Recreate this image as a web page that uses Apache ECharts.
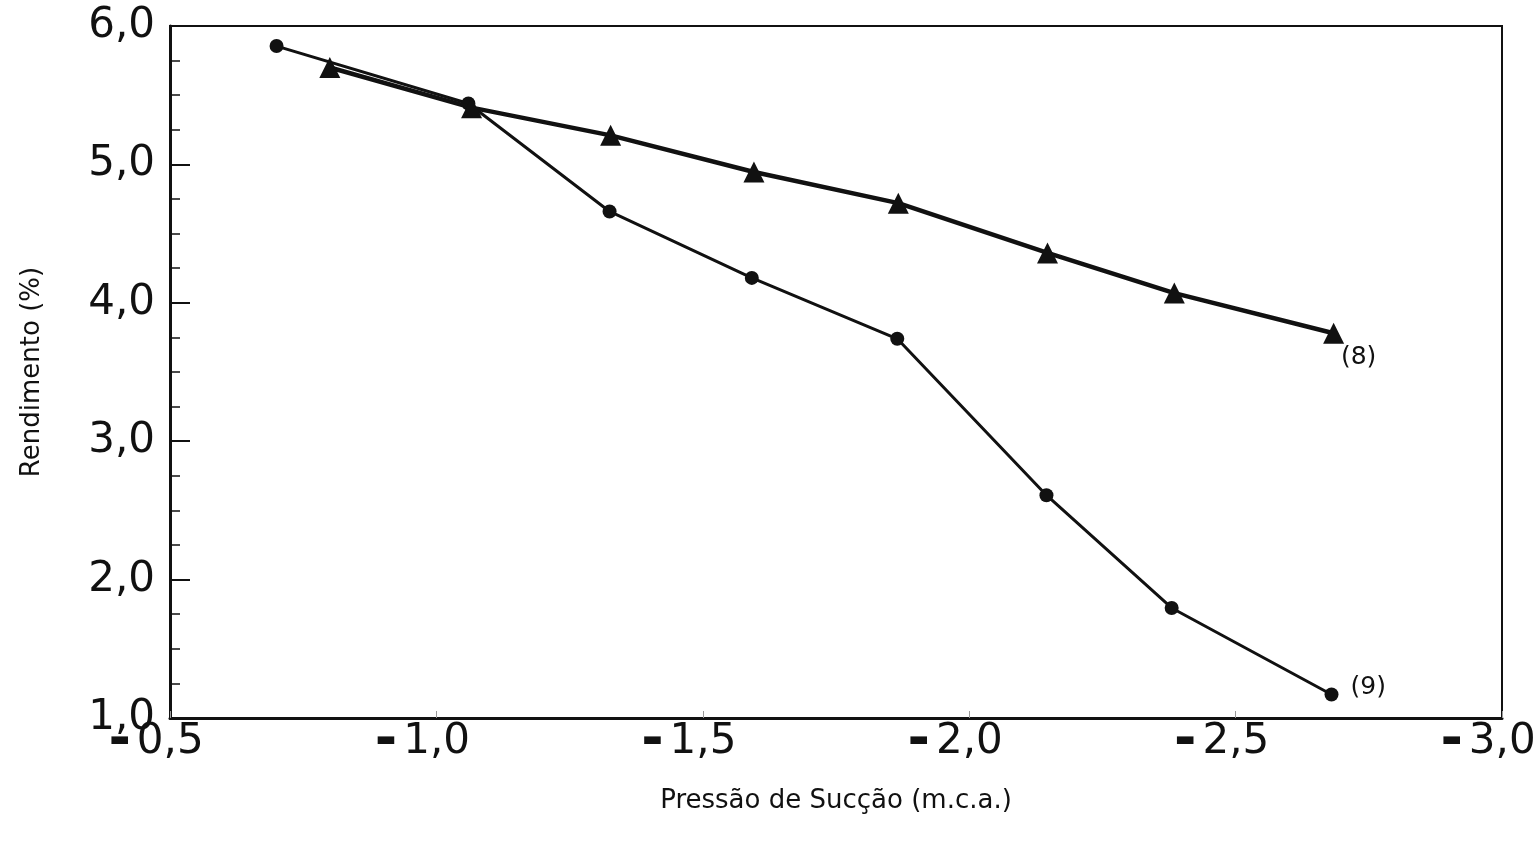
<!DOCTYPE html>
<html>
<head>
<meta charset="utf-8">
<script src="https://cdn.jsdelivr.net/npm/echarts@6/dist/echarts.min.js"></script>
<style>
html,body{margin:0;padding:0;background:#fff;}
#chart{width:1540px;height:842px;}
</style>
</head>
<body>
<div id="chart"></div>
<script>
// Pressão de Sucção (m.c.a.) and Rendimento (%)
const x8 = [-0.80, -1.066, -1.327, -1.596, -1.867, -2.147, -2.385, -2.684];
const y8 = [5.70, 5.41, 5.21, 4.945, 4.72, 4.36, 4.07, 3.78];
const x9 = [-0.70, -1.06, -1.325, -1.592, -1.865, -2.145, -2.38, -2.68];
const y9 = [5.855, 5.44, 4.66, 4.18, 3.74, 2.61, 1.795, 1.17];
const seriesNames = ['(8)', '(9)'];
const xAxisTitle = 'Pressão de Sucção (m.c.a.)';
const yAxisTitle = 'Rendimento (%)';

const FONT = '"DejaVu Sans", Verdana, sans-serif';
function pairs(xs, ys){ return xs.map((x,i)=>[x, ys[i]]); }
function fmt(v){ return Math.abs(v).toFixed(1).replace('.', ','); }

const d8 = pairs(x8, y8);
const d9 = pairs(x9, y9);
const last8 = d8.length - 1, last9 = d9.length - 1;

const chart = echarts.init(document.getElementById('chart'), null, {renderer: 'canvas'});
chart.setOption({
  backgroundColor: '#fff',
  animation: false,
  grid: {left: 170, right: 38, top: 26, bottom: 124, containLabel: false, outerBoundsMode: 'none',
         show: true, borderColor: '#111', borderWidth: 2},
  xAxis: {
    type: 'value', inverse: true, min: -3.0, max: -0.5, interval: 0.5,
    name: xAxisTitle, nameLocation: 'middle', nameGap: 70,
    nameTextStyle: {fontFamily: FONT, fontSize: 26, color: '#111'},
    axisLine: {show: true, lineStyle: {color: '#111', width: 3}},
    axisTick: {show: true, inside: true, length: 7, lineStyle: {color: '#999', width: 1}},
    splitLine: {show: false},
    axisLabel: {
      margin: 3, color: '#111',
      formatter: v => (v < 0 ? '{m|-}' : '') + '{n|' + fmt(v) + '}' + (v < 0 ? '{s|}' : ''),
      rich: {
        m: {fontFamily: FONT, fontWeight: 'bold', fontSize: 54, lineHeight: 42, color: '#111', padding: [0, 6, 0, 0]},
        n: {fontFamily: FONT, fontSize: 42, lineHeight: 42, color: '#111'},
        s: {width: 28, lineHeight: 42}
      }
    }
  },
  yAxis: {
    type: 'value', min: 1, max: 6, interval: 1,
    name: yAxisTitle, nameLocation: 'middle', nameGap: 125, nameRotate: 90,
    nameTextStyle: {fontFamily: FONT, fontSize: 26, color: '#111'},
    axisLine: {show: true, lineStyle: {color: '#111', width: 3}},
    axisTick: {show: true, inside: true, length: 20, lineStyle: {color: '#111', width: 2}},
    minorTick: {show: true, splitNumber: 4, length: 10, lineStyle: {color: '#111', width: 1.5}},
    splitLine: {show: false},
    axisLabel: {fontFamily: FONT, fontSize: 42, color: '#111', margin: 15,
      formatter: v => v.toFixed(1).replace('.', ',')}
  },
  series: [
    {
      name: seriesNames[0], type: 'line', data: d8.map((p,i)=> i===last8 ? {value: p, label: {show: true, formatter: seriesNames[0], position: 'bottom', distance: 1, offset: [25, 0]}} : p),
      symbol: 'triangle', symbolSize: 21,
      itemStyle: {color: '#111'}, lineStyle: {color: '#111', width: 4.5},
      label: {fontFamily: FONT, fontSize: 25, color: '#111'}, z: 3
    },
    {
      name: seriesNames[1], type: 'line', data: d9.map((p,i)=> i===last9 ? {value: p, label: {show: true, formatter: seriesNames[1], position: 'right', distance: 12, offset: [0, -7]}} : p),
      symbol: 'circle', symbolSize: 14,
      itemStyle: {color: '#111'}, lineStyle: {color: '#111', width: 3},
      label: {fontFamily: FONT, fontSize: 25, color: '#111'}, z: 2
    }
  ]
});
</script>
</body>
</html>
